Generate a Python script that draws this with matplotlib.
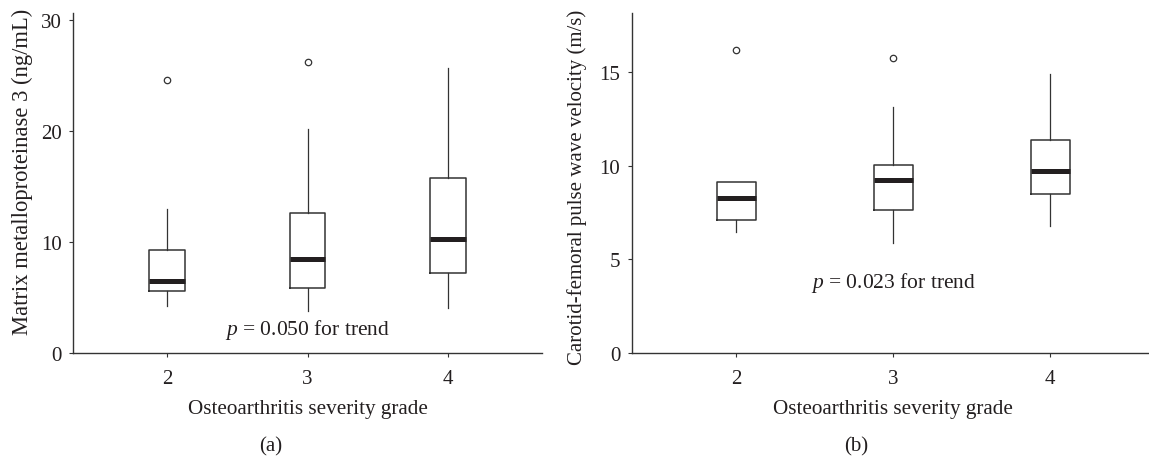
import matplotlib
matplotlib.use("Agg")
import matplotlib.pyplot as plt

plt.rcParams['font.family'] = ['Liberation Serif', 'DejaVu Serif']
plt.rcParams['mathtext.fontset'] = 'custom'
plt.rcParams['mathtext.it'] = 'Liberation Serif:italic'
plt.rcParams['mathtext.rm'] = 'Liberation Serif'

# ---- data ----
grades = [2, 3, 4]

# Panel (a): Matrix metalloproteinase 3 (ng/mL)
mmp3_whislo = [4.25, 3.78, 4.08]
mmp3_q1 = [5.58, 5.92, 7.20]
mmp3_med = [6.48, 8.46, 10.29]
mmp3_q3 = [9.30, 12.65, 15.78]
mmp3_whishi = [13.0, 20.2, 25.65]
mmp3_fliers = [[24.6], [26.2], []]

# Panel (b): Carotid-femoral pulse wave velocity (m/s)
pwv_whislo = [6.45, 5.88, 6.77]
pwv_q1 = [7.10, 7.64, 8.47]
pwv_med = [8.26, 9.23, 9.70]
pwv_q3 = [9.11, 10.03, 11.39]
pwv_whishi = [9.11, 13.11, 14.87]
pwv_fliers = [[16.16], [15.74], []]

xlabel = "Osteoarthritis severity grade"
ylabel_a = "Matrix metalloproteinase 3 (ng/mL)"
ylabel_b = "Carotid-femoral pulse wave velocity (m/s)"
ptext_a = r"$p$ = 0.050 for trend"
ptext_b = r"$p$ = 0.023 for trend"
yticks_a = [0, 10, 20, 30]
yticks_b = [0, 5, 10, 15]

TXT = '#231f20'
LINE = '#333333'

W, H = 1149, 460
fig = plt.figure(figsize=(W / 100, H / 100), dpi=100)


def make_stats(lo, q1, med, q3, hi, fl):
    return [dict(whislo=a, q1=b, med=c, q3=d, whishi=e, fliers=f)
            for a, b, c, d, e, f in zip(lo, q1, med, q3, hi, fl)]


def draw(ax, stats, ylim, yticks, ylab, ylab_size, ptext, ptext_y, ylab_coords):
    ax.bxp(stats, positions=grades, widths=0.25, showcaps=False,
           boxprops=dict(color=LINE, linewidth=1.1),
           whiskerprops=dict(color=LINE, linewidth=0.9),
           medianprops=dict(color='#231f20', linewidth=3.6, solid_capstyle='butt'),
           flierprops=dict(marker='o', markersize=4.6, markerfacecolor='none',
                           markeredgecolor=LINE, markeredgewidth=0.9))
    ax.set_xlim(1.333, 4.667)
    ax.set_ylim(*ylim)
    ax.set_xticks(grades)
    ax.set_xticklabels([str(g) for g in grades])
    ax.set_yticks(yticks)
    for s in ['top', 'right']:
        ax.spines[s].set_visible(False)
    for s in ['left', 'bottom']:
        ax.spines[s].set_color(LINE)
        ax.spines[s].set_linewidth(1.0)
    ax.tick_params(axis='both', direction='out', length=2.7, width=0.8,
                   color=LINE, labelcolor=TXT, labelsize=15)
    ax.tick_params(axis='x', pad=8.5)
    ax.tick_params(axis='y', pad=5.5)
    ax.set_xlabel(xlabel, fontsize=15.2, color=TXT)
    ax.xaxis.set_label_coords(0.5, -0.135)
    ax.set_ylabel(ylab, fontsize=ylab_size, color=TXT)
    ax.yaxis.set_label_coords(*ylab_coords)
    ax.text(3, ptext_y, ptext, ha='center', va='center', fontsize=15.5, color=TXT)


ax1 = fig.add_axes([73.3 / W, 1 - 354.3 / H, 468.4 / W, 340.3 / H])
draw(ax1, make_stats(mmp3_whislo, mmp3_q1, mmp3_med, mmp3_q3, mmp3_whishi, mmp3_fliers),
     (0, 30.63), yticks_a, ylabel_a, 16.3, ptext_a, 2.2, (-0.085, 0.536))

ax2 = fig.add_axes([631.7 / W, 1 - 354.3 / H, 523.3 / W, 340.3 / H])
draw(ax2, make_stats(pwv_whislo, pwv_q1, pwv_med, pwv_q3, pwv_whishi, pwv_fliers),
     (0, 18.13), yticks_b, ylabel_b, 15, ptext_b, 3.8, (-0.0854, 0.49))

fig.text(271 / W, 1 - 447 / H, "(a)", ha='center', va='center', fontsize=15, color=TXT)
fig.text(856 / W, 1 - 447 / H, "(b)", ha='center', va='center', fontsize=15, color=TXT)

fig.savefig("out.png", dpi=100)
